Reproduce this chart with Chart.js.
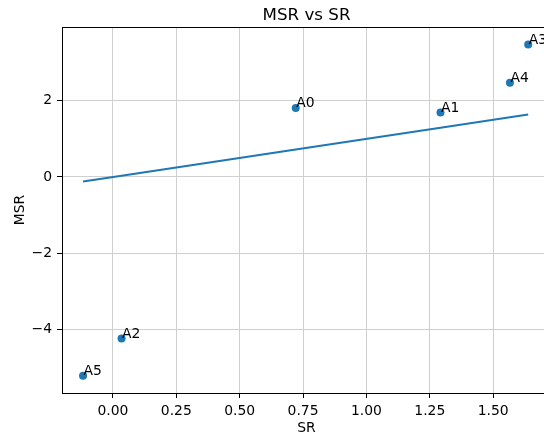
<!DOCTYPE html>
<html>
<head>
<meta charset="utf-8">
<script src="https://cdn.jsdelivr.net/npm/chart.js@4"></script>
<style>
  html, body { margin: 0; padding: 0; overflow: hidden; background: #fff; }
  canvas { display: block; }
</style>
</head>
<body>
<canvas id="msrChart" width="560" height="433"></canvas>
<script>
// point names and values
const pointLabels = ['A0', 'A1', 'A2', 'A3', 'A4', 'A5'];
const srValues = [0.721, 1.292, 0.034, 1.638, 1.566, -0.118];
const msrValues = [1.81, 1.69, -4.23, 3.47, 2.47, -5.21];

const xTicks = [0, 0.25, 0.5, 0.75, 1.0, 1.25, 1.5];
const yTicks = [-4, -2, 0, 2];

const blue = '#1f77b4';
const font = 'DejaVu Sans';
const gridColor = '#cfcfcf';

const scatterPoints = srValues.map((v, i) => ({ x: v, y: msrValues[i] }));
// reference line: MSR = SR over the SR values
const linePoints = srValues.slice().sort((a, b) => a - b).map(v => ({ x: v, y: v }));

const textPlugin = {
    id: 'textPlugin',
    afterDatasetsDraw(chart) {
        const { ctx, chartArea, scales: { x, y } } = chart;
        ctx.save();
        ctx.fillStyle = '#000';

        // point annotations, text sits right/up of the point
        ctx.font = `13.9px "${font}"`;
        ctx.textAlign = 'left';
        ctx.textBaseline = 'alphabetic';
        pointLabels.forEach((lab, i) => {
            ctx.fillText(lab, x.getPixelForValue(srValues[i]) + 0.5, y.getPixelForValue(msrValues[i]) - 0.5);
        });

        // top and right spines
        ctx.strokeStyle = '#000';
        ctx.lineWidth = 1;
        ctx.beginPath();
        ctx.moveTo(chartArea.left, chartArea.top + 0.5);
        ctx.lineTo(chartArea.right, chartArea.top + 0.5);
        ctx.moveTo(chartArea.right - 0.5, chartArea.top);
        ctx.lineTo(chartArea.right - 0.5, chartArea.bottom);
        ctx.stroke();

        const midX = (chartArea.left + chartArea.right) / 2;
        ctx.textAlign = 'center';
        ctx.font = `16.7px "${font}"`;
        ctx.fillText('MSR vs SR', midX, 20);

        ctx.font = `13.9px "${font}"`;
        ctx.fillText('SR', midX, 431.5);

        ctx.translate(23.5, (chartArea.top + chartArea.bottom) / 2);
        ctx.rotate(-Math.PI / 2);
        ctx.fillText('MSR', 0, 0);
        ctx.restore();
    }
};

new Chart(document.getElementById('msrChart').getContext('2d'), {
    type: 'scatter',
    data: {
        datasets: [
            {
                label: 'points',
                data: scatterPoints,
                backgroundColor: blue,
                borderWidth: 0,
                pointRadius: 4,
            },
            {
                type: 'line',
                label: 'SR',
                data: linePoints,
                borderColor: blue,
                borderWidth: 2,
                pointRadius: 0,
                fill: false,
                tension: 0,
            }
        ]
    },
    options: {
        responsive: false,
        animation: false,
        layout: { padding: { top: 27, right: 9, left: 0, bottom: 0 } },
        plugins: {
            legend: { display: false },
            tooltip: { enabled: false },
            title: { display: false },
        },
        scales: {
            x: {
                type: 'linear',
                min: -0.201,
                max: 1.728,
                afterBuildTicks: (scale) => { scale.ticks = xTicks.map(v => ({ value: v })); },
                afterFit: (scale) => { scale.height = 40; },
                grid: { color: gridColor, lineWidth: 1, tickColor: '#000', tickLength: 5 },
                border: { color: '#000', width: 1 },
                ticks: {
                    color: '#000',
                    padding: 5,
                    maxRotation: 0,
                    font: { family: font, size: 13.9 },
                    callback: (v) => v.toFixed(2),
                },
            },
            y: {
                type: 'linear',
                min: -5.66,
                max: 3.93,
                afterBuildTicks: (scale) => { scale.ticks = yTicks.map(v => ({ value: v })); },
                afterFit: (scale) => { scale.width = 62; },
                grid: { color: gridColor, lineWidth: 1, tickColor: '#000', tickLength: 5 },
                border: { color: '#000', width: 1 },
                ticks: {
                    color: '#000',
                    padding: 5,
                    font: { family: font, size: 13.9 },
                    callback: (v) => String(v).replace('-', '\u2212'),
                },
            }
        }
    },
    plugins: [textPlugin]
});
</script>
</body>
</html>
